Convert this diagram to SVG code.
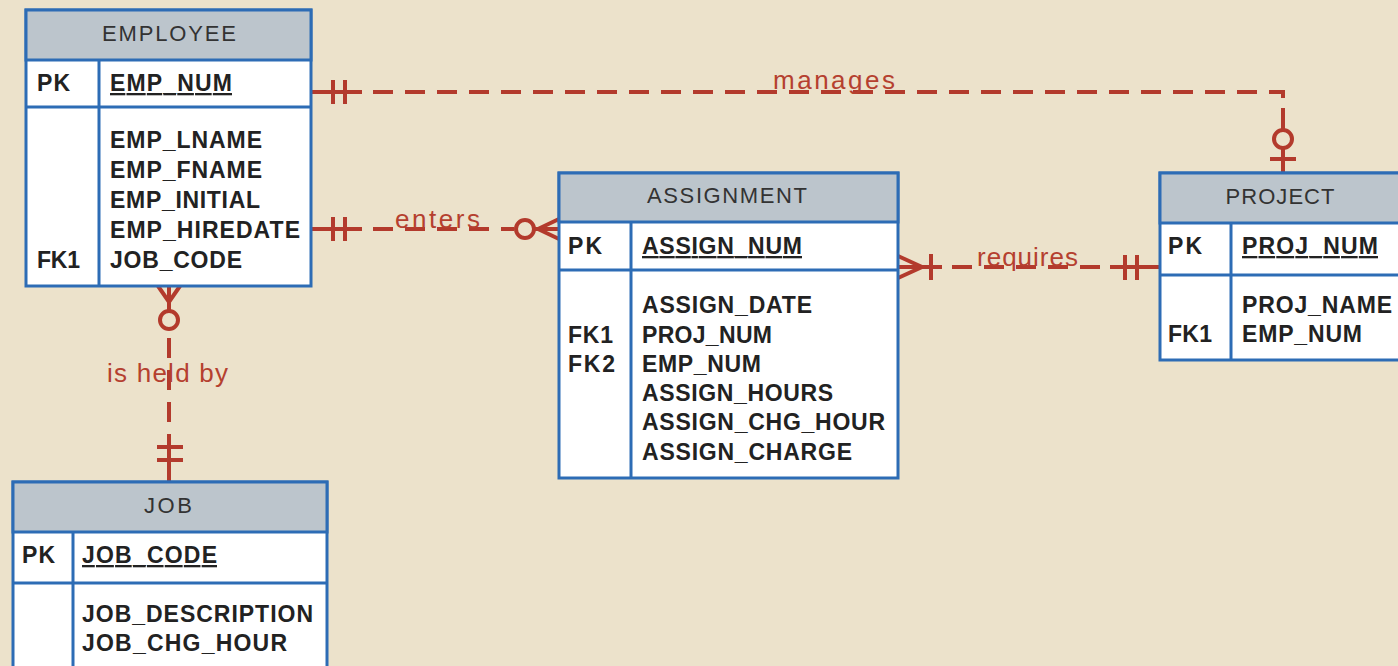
<svg xmlns="http://www.w3.org/2000/svg" width="1398" height="666" viewBox="0 0 1398 666">
<style>
.bg{fill:#ece2cb}
.box{fill:#ffffff;stroke:#2d6cb5;stroke-width:3}
.hdr{fill:#bcc5cc;stroke:#2d6cb5;stroke-width:3}
.ln{stroke:#2d6cb5;stroke-width:3;fill:none}
.ht{font-family:"Liberation Sans",Arial,sans-serif;font-size:22px;fill:#333333;text-anchor:middle}
.ft{font-family:"Liberation Sans",Arial,sans-serif;font-size:23px;font-weight:bold;fill:#222222}
.pk{text-decoration:underline}
.c{stroke:#b33a2c;stroke-width:4;fill:none}
.d{stroke:#b33a2c;stroke-width:4;fill:none;stroke-dasharray:20 12}
.o{stroke:#b33a2c;stroke-width:4;fill:#ece2cb}
.lbl{font-family:"Liberation Sans",Arial,sans-serif;font-size:26px;fill:#b5402f}
</style>
<rect class="bg" x="0" y="0" width="1398" height="666"/>

<g id="connectors">
  <!-- manages -->
  <path class="c" d="M311,92 H362 M333,80 V104 M345,80 V104"/>
  <path class="d" d="M373,92 H1283 V118"/>
  <path class="c" d="M1283,108 V129 M1283,149 V173 M1270,159 H1296"/>
  <circle class="o" cx="1283" cy="139" r="9"/>
  <!-- enters -->
  <path class="c" d="M311,229 H362 M333,217 V241 M345,217 V241"/>
  <path class="d" d="M373,229 H514"/>
  <circle class="o" cx="525" cy="229" r="9"/>
  <path class="c" d="M534,229 H559 M538,229 L559,219 M538,229 L559,239"/>
  <!-- requires -->
  <path class="c" d="M898,267 H942 M898,256 L922,267 L898,278 M931,254 V280"/>
  <path class="d" d="M952,267 H1110"/>
  <path class="c" d="M1110,267 H1160 M1125,255 V280 M1137,255 V280"/>
  <!-- is held by -->
  <path class="c" d="M169,286 V310 M158,286 L169,302 L180,286"/>
  <circle class="o" cx="169" cy="320" r="9"/>
  <path class="d" d="M169,338 V430"/>
  <path class="c" d="M169,434 V482 M157,447 H183 M157,460 H183"/>
  <text class="lbl" x="773" y="89" textLength="122">manages</text>
  <text class="lbl" x="395" y="228" textLength="85">enters</text>
  <text class="lbl" x="977" y="266" textLength="101">requires</text>
  <text class="lbl" x="107" y="382" textLength="121">is held by</text>
</g>

<g id="employee">
  <rect class="box" x="26" y="10" width="285" height="276"/>
  <rect class="hdr" x="26" y="10" width="285" height="50"/>
  <path class="ln" d="M26,107 H311 M99,60 V286"/>
  <text class="ht" x="169" y="41" textLength="134">EMPLOYEE</text>
  <text class="ft" x="37" y="91" textLength="33">PK</text>
  <text class="ft pk" x="110" y="91" textLength="122">EMP_NUM</text>
  <text class="ft" x="110" y="148" textLength="152">EMP_LNAME</text>
  <text class="ft" x="110" y="178" textLength="152">EMP_FNAME</text>
  <text class="ft" x="110" y="208" textLength="150">EMP_INITIAL</text>
  <text class="ft" x="110" y="238" textLength="190">EMP_HIREDATE</text>
  <text class="ft" x="37" y="268" textLength="43">FK1</text>
  <text class="ft" x="110" y="268" textLength="132">JOB_CODE</text>
</g>

<g id="assignment">
  <rect class="box" x="559" y="173" width="339" height="305"/>
  <rect class="hdr" x="559" y="173" width="339" height="49"/>
  <path class="ln" d="M559,270 H898 M631,222 V478"/>
  <text class="ht" x="727" y="203" textLength="160">ASSIGNMENT</text>
  <text class="ft" x="568" y="254" textLength="34">PK</text>
  <text class="ft pk" x="642" y="254" textLength="160">ASSIGN_NUM</text>
  <text class="ft" x="642" y="313" textLength="170">ASSIGN_DATE</text>
  <text class="ft" x="568" y="343" textLength="45">FK1</text>
  <text class="ft" x="642" y="343" textLength="130">PROJ_NUM</text>
  <text class="ft" x="568" y="372" textLength="47">FK2</text>
  <text class="ft" x="642" y="372" textLength="119">EMP_NUM</text>
  <text class="ft" x="642" y="401" textLength="191">ASSIGN_HOURS</text>
  <text class="ft" x="642" y="430" textLength="243">ASSIGN_CHG_HOUR</text>
  <text class="ft" x="642" y="460" textLength="210">ASSIGN_CHARGE</text>
</g>

<g id="project">
  <rect class="box" x="1160" y="173" width="242" height="187"/>
  <rect class="hdr" x="1160" y="173" width="242" height="50"/>
  <path class="ln" d="M1160,275 H1402 M1231,223 V360"/>
  <text class="ht" x="1280" y="204" textLength="109">PROJECT</text>
  <text class="ft" x="1168" y="254" textLength="34">PK</text>
  <text class="ft pk" x="1242" y="254" textLength="136">PROJ_NUM</text>
  <text class="ft" x="1242" y="313" textLength="150">PROJ_NAME</text>
  <text class="ft" x="1168" y="342" textLength="44">FK1</text>
  <text class="ft" x="1242" y="342" textLength="120">EMP_NUM</text>
</g>

<g id="job">
  <rect class="box" x="13" y="482" width="314" height="200"/>
  <rect class="hdr" x="13" y="482" width="314" height="50"/>
  <path class="ln" d="M13,583 H327 M73,532 V682"/>
  <text class="ht" x="168" y="513" textLength="48">JOB</text>
  <text class="ft" x="22" y="563" textLength="33">PK</text>
  <text class="ft pk" x="82" y="563" textLength="135">JOB_CODE</text>
  <text class="ft" x="82" y="622" textLength="231">JOB_DESCRIPTION</text>
  <text class="ft" x="82" y="651" textLength="205">JOB_CHG_HOUR</text>
</g>
</svg>
